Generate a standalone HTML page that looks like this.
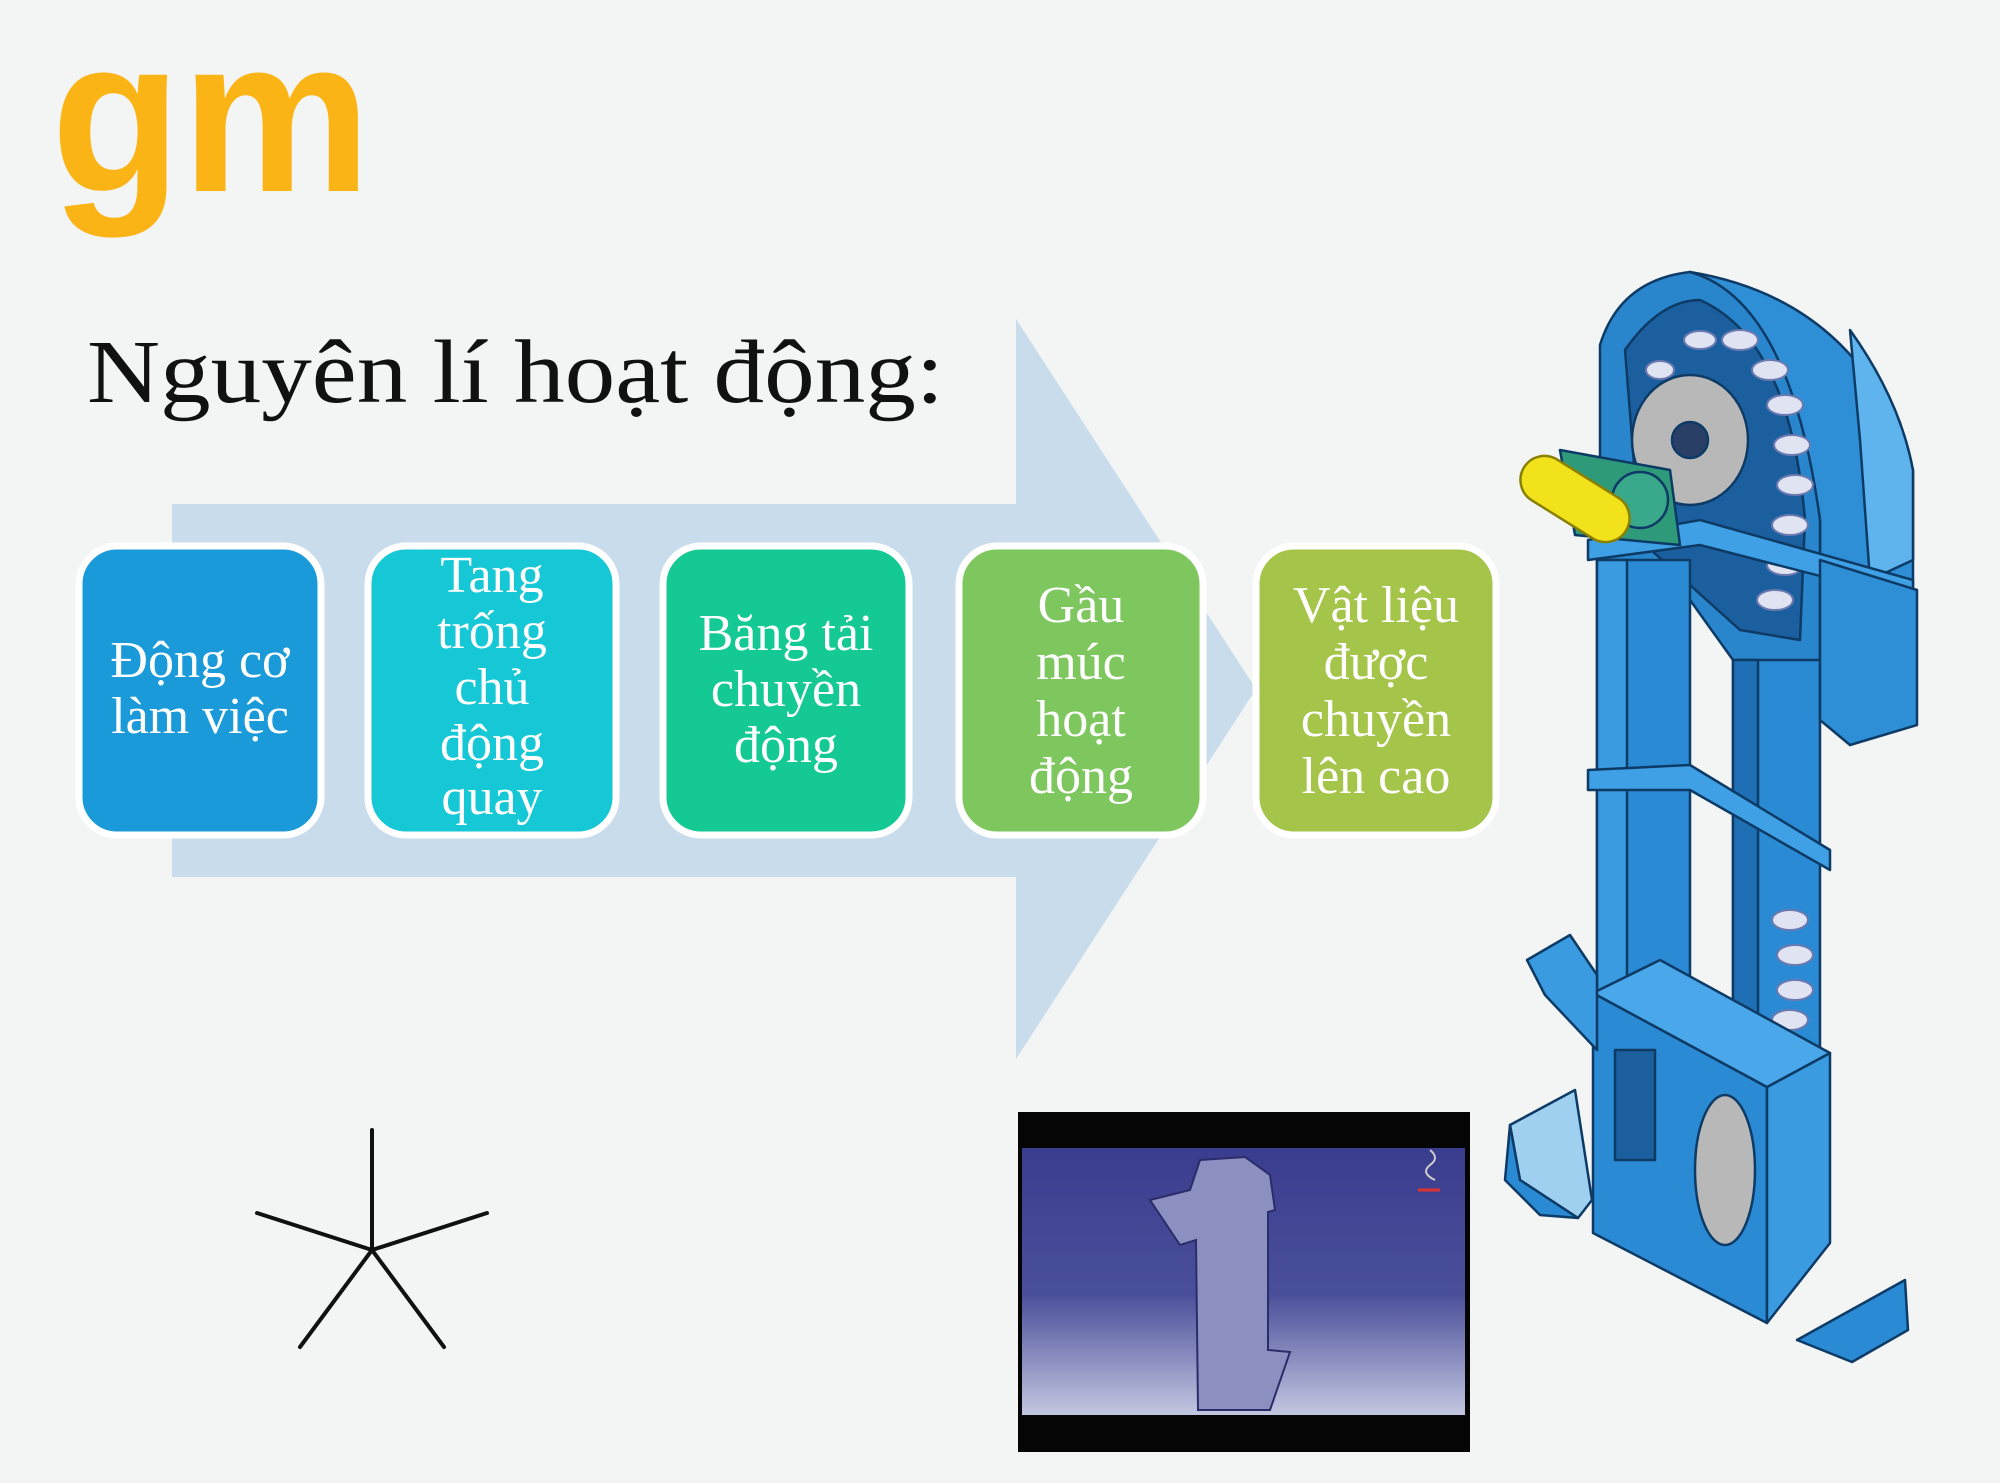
<!DOCTYPE html>
<html><head><meta charset="utf-8"><style>
html,body{margin:0;padding:0;background:#f3f4f4;}
svg{display:block}
</style></head><body>
<svg width="2000" height="1483" viewBox="0 0 2000 1483" xmlns="http://www.w3.org/2000/svg">
<defs>
<linearGradient id="vg" x1="0" y1="0" x2="0" y2="1">
<stop offset="0" stop-color="#3a3d8e"/><stop offset="0.55" stop-color="#4a4f9a"/><stop offset="1" stop-color="#c3c6e0"/>
</linearGradient>
</defs>
<rect width="2000" height="1483" fill="#f3f4f4"/>
<!-- logo -->
<text x="51" y="191" font-family="Liberation Sans, sans-serif" font-weight="bold" font-size="220" fill="#fbb416" transform="translate(51 0) scale(0.97 1) translate(-51 0)">gm</text>
<!-- title -->
<text x="87" y="402" font-family="Liberation Serif, serif" font-size="90" fill="#111" textLength="857" lengthAdjust="spacingAndGlyphs">Nguyên lí hoạt động:</text>
<!-- big arrow -->
<polygon points="172,504 1016,504 1016,319 1256,689 1016,1059 1016,877 172,877" fill="#c9dcec"/>
<!-- boxes -->
<g stroke="#ffffff" stroke-width="7">
<rect x="79" y="546" width="242" height="289" rx="38" fill="#1a9ad9"/>
<rect x="368" y="546" width="248" height="289" rx="38" fill="#16c7d6"/>
<rect x="663" y="546" width="246" height="289" rx="38" fill="#14c993"/>
<rect x="959" y="546" width="244" height="289" rx="38" fill="#7ec65e"/>
<rect x="1256" y="546" width="240" height="289" rx="38" fill="#a5c44a"/>
</g>
<g font-family="Liberation Serif, serif" font-size="52" fill="#ffffff" text-anchor="middle">
<text x="200" y="677">Động cơ</text><text x="200" y="733">làm việc</text>
<text x="492" y="592">Tang</text><text x="492" y="648">trống</text><text x="492" y="704">chủ</text><text x="492" y="760">động</text><text x="492" y="814">quay</text>
<text x="786" y="650">Băng tải</text><text x="786" y="706">chuyền</text><text x="786" y="762">động</text>
<text x="1081" y="622">Gầu</text><text x="1081" y="679">múc</text><text x="1081" y="736">hoạt</text><text x="1081" y="793">động</text>
<text x="1376" y="622">Vật liệu</text><text x="1376" y="679">được</text><text x="1376" y="736">chuyền</text><text x="1376" y="793">lên cao</text>
</g>
<!-- star -->
<g stroke="#111" stroke-width="4" stroke-linecap="round">
<line x1="372" y1="1250" x2="372" y2="1130"/>
<line x1="372" y1="1250" x2="257" y2="1213"/>
<line x1="372" y1="1250" x2="487" y2="1213"/>
<line x1="372" y1="1250" x2="300" y2="1347"/>
<line x1="372" y1="1250" x2="444" y2="1347"/>
</g>
<!-- video -->
<rect x="1018" y="1112" width="452" height="340" fill="#050505"/>
<rect x="1022" y="1148" width="443" height="267" fill="url(#vg)"/>
<path d="M1200,1160 L1245,1157 L1270,1175 L1275,1210 L1268,1212 L1268,1350 L1290,1352 L1270,1410 L1198,1410 L1196,1240 L1180,1245 L1150,1200 L1190,1190 Z" fill="#8c90c0" stroke="#2a2d6a" stroke-width="2"/>
<path d="M1430,1150 q10,8 0,15 q-10,8 5,15" stroke="#ccc" fill="none" stroke-width="2"/>
<line x1="1418" y1="1190" x2="1440" y2="1190" stroke="#d33" stroke-width="3"/>
<!-- elevator -->
<g stroke="#0d3b66" stroke-width="2.5" stroke-linejoin="round">
<path d="M1690,272 Q1860,300 1913,470 L1913,720 L1850,745 L1820,700 L1820,520 Q1800,380 1690,330 Z" fill="#2f8fd6"/>
<path d="M1600,345 Q1620,280 1690,272 Q1790,300 1820,520 L1820,700 L1733,660 L1690,600 L1600,560 Z" fill="#2a86cc"/>
<path d="M1625,350 Q1660,300 1700,300 Q1790,340 1805,520 L1800,640 L1740,630 L1640,540 Z" fill="#1c5f9e"/>
<path d="M1850,330 Q1900,400 1913,470 L1913,560 L1870,580 L1860,440 Z" fill="#5fb4ee"/>
<g fill="#dfe3f2" stroke="#6a7ab0" stroke-width="2">
<ellipse cx="1740" cy="340" rx="18" ry="10"/><ellipse cx="1770" cy="370" rx="18" ry="10"/>
<ellipse cx="1785" cy="405" rx="18" ry="10"/><ellipse cx="1792" cy="445" rx="18" ry="10"/>
<ellipse cx="1795" cy="485" rx="18" ry="10"/><ellipse cx="1790" cy="525" rx="18" ry="10"/>
<ellipse cx="1785" cy="565" rx="18" ry="10"/><ellipse cx="1775" cy="600" rx="18" ry="10"/>
<ellipse cx="1700" cy="340" rx="16" ry="9"/><ellipse cx="1660" cy="370" rx="14" ry="9"/>
</g>
<ellipse cx="1690" cy="440" rx="58" ry="65" fill="#b8b8b8"/>
<circle cx="1690" cy="440" r="18" fill="#2a3f66"/>
<rect x="1597" y="560" width="93" height="470" fill="#2a8ad3"/>
<rect x="1597" y="560" width="30" height="470" fill="#3a9be0"/>
<rect x="1733" y="660" width="87" height="400" fill="#2a8ad3"/>
<rect x="1733" y="660" width="25" height="400" fill="#1f6fb5"/>
<g fill="#dfe3f2" stroke="#6a7ab0" stroke-width="2">
<ellipse cx="1790" cy="920" rx="18" ry="10"/><ellipse cx="1795" cy="955" rx="18" ry="10"/><ellipse cx="1795" cy="990" rx="18" ry="10"/><ellipse cx="1790" cy="1020" rx="18" ry="10"/>
</g>
<polygon points="1588,770 1690,765 1830,850 1830,870 1690,790 1588,790" fill="#3fa0e5"/>
<polygon points="1588,540 1700,520 1913,580 1913,600 1700,545 1588,560" fill="#3fa0e5"/>
<polygon points="1820,560 1917,590 1917,725 1850,745 1820,720" fill="#2f8fd6"/>
<path d="M1560,450 L1670,470 L1680,545 L1575,535 Z" fill="#2f9a7a"/>
<circle cx="1640" cy="500" r="28" fill="#3aa88a"/>
<rect x="1515" y="475" width="120" height="48" rx="24" fill="#f2e21c" stroke="#8a8000" transform="rotate(32 1575 499)"/>
<polygon points="1593,993 1767,1087 1767,1323 1593,1233" fill="#2a8ad3"/>
<polygon points="1767,1087 1830,1053 1830,1243 1767,1323" fill="#3a9be0"/>
<polygon points="1593,993 1660,960 1830,1053 1767,1087" fill="#4aa8ea"/>
<ellipse cx="1725" cy="1170" rx="30" ry="75" fill="#b8b8b8"/>
<rect x="1615" y="1050" width="40" height="110" fill="#1c5f9e"/>
<polygon points="1527,960 1570,935 1597,975 1597,1050 1545,995" fill="#3a9be0"/>
<polygon points="1510,1125 1575,1090 1592,1200 1578,1218 1520,1180" fill="#9fd0f0"/>
<polygon points="1510,1125 1520,1180 1578,1218 1540,1215 1505,1180" fill="#2a8ad3"/>
<polygon points="1797,1340 1905,1280 1908,1330 1852,1362" fill="#2a8ad3"/>
</g>
</svg>
</body></html>
